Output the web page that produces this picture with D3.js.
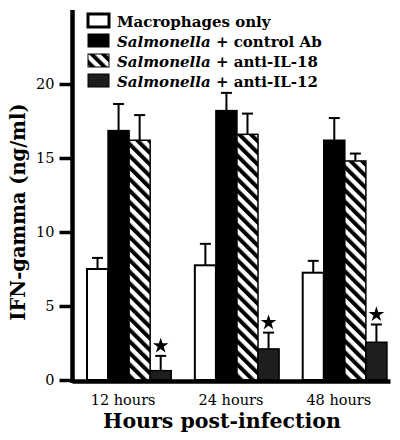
<!DOCTYPE html>
<html><head><meta charset="utf-8">
<script src="https://cdn.jsdelivr.net/npm/d3@7"></script>
<style>html,body{margin:0;padding:0;background:#fff;}svg{display:block;}</style>
</head><body>
<script>
const categories = ["12 hours", "24 hours", "48 hours"];
const seriesNames = ["Macrophages only", "Salmonella + control Ab", "Salmonella + anti-IL-18", "Salmonella + anti-IL-12"];
const macrophagesOnly = [7.5, 7.75, 7.25];
const macrophagesErr = [0.75, 1.45, 0.8];
const controlAb = [16.85, 18.2, 16.2];
const controlAbErr = [1.8, 1.2, 1.5];
const antiIL18 = [16.2, 16.6, 14.8];
const antiIL18Err = [1.7, 1.4, 0.5];
const antiIL12 = [0.63, 2.1, 2.55];
const antiIL12Err = [1.0, 1.1, 1.2];
const significant = [false, false, false, true];
const yTicks = [0, 5, 10, 15, 20];

const W = 400, H = 440;
const svg = d3.select("body").append("svg").attr("width", W).attr("height", H);
const defs = svg.append("defs");
const pat = defs.append("pattern").attr("id", "hatch").attr("patternUnits", "userSpaceOnUse")
  .attr("width", 8.2).attr("height", 8.2).attr("patternTransform", "rotate(-45)");
pat.append("rect").attr("width", 8.2).attr("height", 8.2).attr("fill", "#fff");
pat.append("rect").attr("width", 4).attr("height", 8.2).attr("fill", "#000");

const values = [macrophagesOnly, controlAb, antiIL18, antiIL12];
const errs = [macrophagesErr, controlAbErr, antiIL18Err, antiIL12Err];
const fills = ["#fff", "#000", "url(#hatch)", "#1e1e1e"];

const y = d3.scaleLinear().domain([0, 25]).range([380, 10]);
const x0 = d3.scaleBand().domain(categories).range([72, 390]).paddingInner(0.219).paddingOuter(0.0837).align(0.83);
const x1 = d3.scaleBand().domain(d3.range(4)).range([0, x0.bandwidth()]);

const serif = "'DejaVu Serif', serif";

// bars
categories.forEach((c, ci) => {
  const g = svg.append("g").attr("transform", `translate(${x0(c)},0)`);
  values.forEach((vals, si) => {
    const v = vals[ci], e = errs[si][ci];
    const bx = x1(si), bw = x1.bandwidth();
    const cx = bx + bw / 2;
    const top = y(v + e);
    g.append("line").attr("x1", cx).attr("x2", cx).attr("y1", y(v)).attr("y2", top)
      .attr("stroke", "#000").attr("stroke-width", 2);
    g.append("line").attr("x1", cx - 5.5).attr("x2", cx + 5.5).attr("y1", top).attr("y2", top)
      .attr("stroke", "#000").attr("stroke-width", 2);
    g.append("rect").attr("x", bx).attr("y", y(v)).attr("width", bw).attr("height", y(0) - y(v))
      .attr("fill", fills[si]).attr("stroke", "#000").attr("stroke-width", si === 0 ? 2 : 1.5);
    if (significant[si]) {
      g.append("path").attr("d", d3.symbol(d3.symbolStar, 75)())
        .attr("transform", `translate(${cx},${top - 10})`).attr("fill", "#000");
    }
  });
});

// y axis
const yAxis = svg.append("g").attr("transform", "translate(72.5,0)")
  .call(d3.axisLeft(y).tickValues(yTicks).tickSize(13).tickSizeOuter(0).tickPadding(5));
yAxis.select(".domain").attr("stroke-width", 4.5).attr("d", `M0,${y.range()[1]}V${y(0) + 3}`);
yAxis.selectAll(".tick line").attr("stroke-width", 3.5);
yAxis.selectAll(".tick text").attr("font-family", serif).attr("font-size", 14.5).attr("fill", "#000");

// x axis
const xAxis = svg.append("g").attr("transform", `translate(0,${y(0) + 1})`)
  .call(d3.axisBottom(x0).tickSize(0).tickSizeOuter(0).tickPadding(14));
xAxis.select(".domain").attr("stroke-width", 4.5);
xAxis.selectAll(".tick text").attr("font-family", serif).attr("font-size", 14.5).attr("fill", "#000").attr("dx", -6);

// axis titles
svg.append("text").attr("x", 222).attr("y", 428).attr("text-anchor", "middle")
  .attr("font-family", serif).attr("font-weight", "bold").attr("font-size", 20.5).text("Hours post-infection");
svg.append("text").attr("transform", "translate(25,212) rotate(-90)").attr("text-anchor", "middle")
  .attr("font-family", serif).attr("font-weight", "bold").attr("font-size", 19.5).text("IFN-gamma (ng/ml)");

// legend
const leg = svg.append("g");
seriesNames.forEach((name, i) => {
  const ly = 14 + i * 20;
  leg.append("rect").attr("x", 88).attr("y", ly).attr("width", 21).attr("height", 13)
    .attr("fill", fills[i]).attr("stroke", "#000").attr("stroke-width", i === 0 ? 3 : 1);
  const t = leg.append("text").attr("x", 117).attr("y", ly + 13).attr("font-family", serif)
    .attr("font-weight", "bold").attr("font-size", 15);
  if (name.startsWith("Salmonella")) {
    t.append("tspan").attr("font-style", "italic").text("Salmonella");
    t.append("tspan").text(name.slice("Salmonella".length));
  } else t.text(name);
});
</script>
</body></html>
